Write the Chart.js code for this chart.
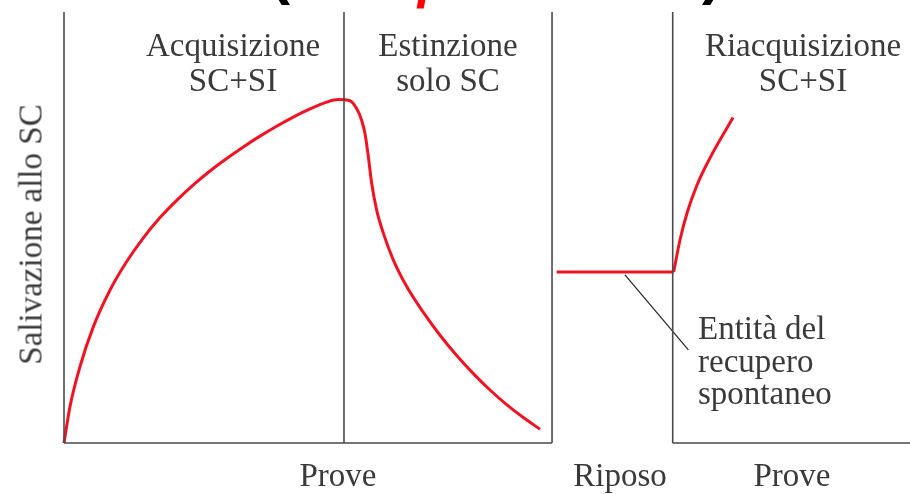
<!DOCTYPE html>
<html>
<head>
<meta charset="utf-8">
<script src="https://cdn.jsdelivr.net/npm/chart.js@4/dist/chart.umd.min.js"></script>
<style>
  body { margin: 0; background: #fff; }
  #wrap { position: relative; width: 910px; height: 494px; overflow: hidden; }
  canvas { position: absolute; left: 0; top: 0; }
  .lbl { position: absolute; font-family: "Liberation Serif", "Times New Roman", serif; font-size: 33px; line-height: 35px; color: #3a3a3a; text-align: center; white-space: nowrap; }
  .frag { position: absolute; font-family: "Liberation Sans", Arial, sans-serif; font-weight: bold; font-size: 60px; line-height: 60px; color: #000; }
</style>
</head>
<body>
<div id="wrap">
  <canvas id="chart" width="910" height="494"></canvas>

  <div class="frag" style="left:270px; top:-57px;">(</div>
  <div class="frag" style="left:416px; top:-43px; color:#ff0000;">/</div>
  <div class="frag" style="left:702px; top:-57px;">)</div>

  <div class="lbl" style="left:133px; top:28px; width:200px;">Acquisizione<br>SC+SI</div>
  <div class="lbl" style="left:348px; top:28px; width:200px;">Estinzione<br>solo SC</div>
  <div class="lbl" style="left:703px; top:28px; width:200px;">Riacquisizione<br>SC+SI</div>

  <div class="lbl" style="left:698px; top:312px; line-height:32.5px; text-align:left;">Entità del<br>recupero<br>spontaneo</div>

  <div class="lbl" style="left:238px; top:458px; width:200px;">Prove</div>
  <div class="lbl" style="left:520px; top:458px; width:200px;">Riposo</div>
  <div class="lbl" style="left:692px; top:458px; width:200px;">Prove</div>

  <div class="lbl" style="left:-119px; top:217px; width:300px; transform:rotate(-90deg);">Salivazione allo SC</div>
</div>

<script>
// prove (trials) and salivazione (response, 0-100)
const acqTrials = [0, 0.43, 1.14, 2.10, 3.29, 4.48, 5.67, 6.86, 8.05, 9.24, 10.43, 11.62, 12.81, 14.0, 15.19, 16.38, 17.57, 18.76, 19.6];
const acqResp   = [0, 8.5, 17.7, 27.0, 35.5, 42.1, 47.6, 52.3, 56.3, 59.9, 63.1, 66.0, 68.7, 71.2, 73.5, 75.6, 77.5, 79.1, 79.7];

const extTrials = [20.43, 20.9, 21.26, 21.5, 21.74, 21.98, 22.33, 22.81, 23.52, 24.48, 25.67, 26.86, 28.05, 29.24, 30.43, 31.62, 32.81, 34.0];
const extResp   = [79.4, 77.6, 74.9, 71.8, 66.4, 60.2, 54.1, 48.7, 42.5, 36.3, 30.3, 25.0, 20.3, 16.1, 12.3, 8.9, 5.9, 3.2];

const restTrials = [35.19, 43.55];
const restResp   = [39.7, 39.7];

const reacqTrials = [43.55, 44.0, 44.5, 45.21, 46.14, 47.79];
const reacqResp   = [39.7, 47.1, 53.3, 59.8, 66.1, 75.5];

// pointer line of "Entità del recupero spontaneo"
const noteTrials = [40.07, 44.6];
const noteResp   = [39.0, 21.6];

// panel frame
const panelEdges = [0, 20, 34.86, 43.48];
const xMax = 60.43;
const yMax = 100;

const toPoints = (xs, ys) => xs.map((x, i) => ({ x: x, y: ys[i] }));

const red = 'rgb(240, 20, 35)';
const frame = '#4a4a4a';

const curve = (data) => ({
  data: data,
  borderColor: red,
  borderWidth: 3,
  pointRadius: 0,
  cubicInterpolationMode: 'monotone',
  clip: false
});

const straight = (data, color, width) => ({
  data: data,
  borderColor: color,
  borderWidth: width,
  pointRadius: 0,
  tension: 0,
  clip: false
});

const datasets = [
  ...panelEdges.map(x => straight(toPoints([x, x], [0, yMax]), frame, 1.6)),
  straight(toPoints([panelEdges[0], panelEdges[2]], [0, 0]), frame, 1.6),
  straight(toPoints([panelEdges[3], xMax], [0, 0]), frame, 1.6),
  straight(toPoints(noteTrials, noteResp), '#222', 1.2),
  curve(toPoints(acqTrials.concat(extTrials), acqResp.concat(extResp))),
  straight(toPoints(restTrials, restResp), red, 3),
  curve(toPoints(reacqTrials, reacqResp))
];

new Chart(document.getElementById('chart'), {
  type: 'line',
  data: { datasets: datasets },
  options: {
    responsive: false,
    animation: false,
    layout: { padding: { left: 64, top: 12, right: 0, bottom: 51 } },
    plugins: { legend: { display: false }, tooltip: { enabled: false } },
    scales: {
      x: { type: 'linear', min: 0, max: xMax, display: false },
      y: { type: 'linear', min: 0, max: yMax, display: false }
    }
  }
});
</script>
</body>
</html>
